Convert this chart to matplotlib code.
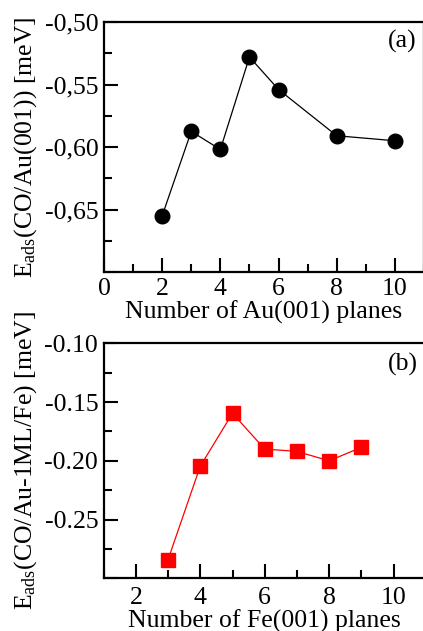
import numpy as np
import matplotlib.pyplot as plt
from matplotlib.ticker import MultipleLocator, FuncFormatter

plt.rcParams['font.family'] = ['Liberation Serif', 'DejaVu Serif']
plt.rcParams['mathtext.fontset'] = 'custom'
plt.rcParams['mathtext.rm'] = 'Liberation Serif'
plt.rcParams['mathtext.it'] = 'Liberation Serif:italic'
plt.rcParams['font.size'] = 18.5

# (a) CO on Au(001) slabs
n_au = [2, 3, 4, 5, 6, 8, 10]
e_au = [-0.655, -0.5875, -0.602, -0.528, -0.554, -0.591, -0.595]

# (b) CO on Au-1ML/Fe(001) slabs
n_fe = [3, 4, 5, 6, 7, 8, 9]
e_fe = [-0.284, -0.2045, -0.1596, -0.190, -0.192, -0.200, -0.1886]

W, H = 423, 631
fig = plt.figure(figsize=(W / 100, H / 100), dpi=100)

ax1 = fig.add_axes([104 / W, 1 - 272 / H, 320 / W, 250 / H])
ax2 = fig.add_axes([103.7 / W, 1 - 578.3 / H, 322 / W, 235 / H])


def style(ax, xpad):
    for s in ax.spines.values():
        s.set_linewidth(1.6)
    ax.tick_params(which='both', direction='in', width=1.5,
                   top=False, right=False)
    ax.tick_params(which='major', length=10, pad=4)
    ax.tick_params(axis='x', which='major', pad=xpad)
    ax.tick_params(which='minor', length=5.5)
    ax.xaxis.set_major_locator(MultipleLocator(2))
    ax.xaxis.set_minor_locator(MultipleLocator(1))
    ax.yaxis.set_major_locator(MultipleLocator(0.05))
    ax.yaxis.set_minor_locator(MultipleLocator(0.025))


ax1.plot(n_au, e_au, '-', color='black', lw=0.9, marker='o', ms=10.5,
         mfc='black', mec='black')
ax1.set_xlim(0, 11)
ax1.set_ylim(-0.70, -0.50)
style(ax1, 4.5)
ax1.yaxis.set_major_formatter(FuncFormatter(
    lambda v, p: '' if v < -0.675 else f'{v:.2f}'.replace('.', ',')))
ax1.set_xlabel('Number of Au(001) planes', labelpad=0.5)
ax1.set_ylabel('E$_{\\mathrm{ads}}$(CO/Au(001)) [meV]', labelpad=4)
ax1.text(0.933, 0.921, '(a)', transform=ax1.transAxes,
         ha='center', va='center')

ax2.plot(n_fe, e_fe, '-', color='#ff0000', lw=0.9, marker='s', ms=10,
         mfc='#ff0000', mec='#ff0000')
ax2.set_xlim(1, 11)
ax2.set_ylim(-0.30, -0.10)
style(ax2, 6)
ax2.yaxis.set_major_formatter(FuncFormatter(
    lambda v, p: '' if v < -0.275 else f'{v:.2f}'))
ax2.set_xlabel('Number of Fe(001) planes', labelpad=1)
ax2.set_ylabel('E$_{\\mathrm{ads}}$(CO/Au-1ML/Fe) [meV]', labelpad=4)
ax2.text(0.928, 0.912, '(b)', transform=ax2.transAxes,
         ha='center', va='center')

fig.savefig('out.png', dpi=100)
